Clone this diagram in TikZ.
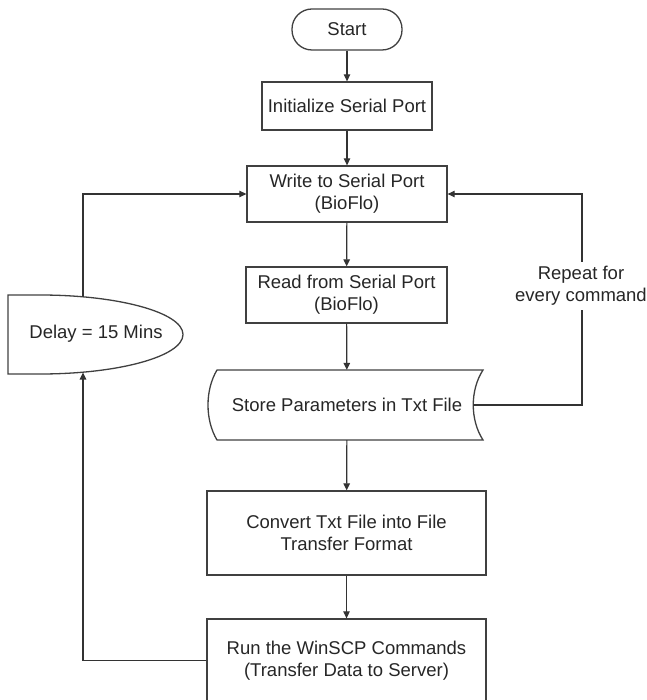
\documentclass[tikz,border=0pt]{standalone}
\usepackage{fontspec}
\setmainfont{Liberation Sans}
\usetikzlibrary{arrows.meta}

\begin{document}
\begin{tikzpicture}[x=1pt,y=-1pt,
  every node/.style={font=\fontsize{18.5}{22}\selectfont, text=black!85,
    align=center, inner sep=0pt},
  stepbox/.style={draw=black!75, line width=1.3pt},
  outline/.style={draw=black!75, line width=1.3pt},
  link/.style={draw=black!80, line width=1.2pt,
    -{Triangle[length=7pt,width=6.5pt]}},
]
\useasboundingbox (0,0) rectangle (646,700);

% terminal and process steps
\node[stepbox, rounded corners=20pt, minimum width=110pt, minimum height=41pt]
  (start) at (347,29.5) {Start};
\node[stepbox, minimum width=170pt, minimum height=48pt]
  (init) at (347,106) {Initialize Serial Port};
\node[stepbox, minimum width=200pt, minimum height=56pt]
  (write) at (347,194) {Write to Serial Port\\(BioFlo)};
\node[stepbox, minimum width=201pt, minimum height=56pt]
  (read) at (346.5,295) {Read from Serial Port\\(BioFlo)};

% stored-data step: convex left side, concave right side
\node[minimum width=272pt, minimum height=70pt]
  (store) at (347,405) {Store Parameters in Txt File};
\draw[outline] (217,370) -- (483,370)
  .. controls (470,390) and (470,420) .. (483,440)
  -- (217,440)
  .. controls (205,420) and (205,390) .. (217,370) -- cycle;

\node[stepbox, minimum width=279pt, minimum height=84pt]
  (convert) at (346.5,533) {Convert Txt File into File\\Transfer Format};
\node[stepbox, minimum width=279pt, minimum height=83pt]
  (run) at (346.5,660.5) {Run the WinSCP Commands\\(Transfer Data to Server)};

% delay step
\draw[outline] (8,295) -- (40,295)
  .. controls (119,295) and (183,312.7) .. (183,334.5)
  .. controls (183,356.3) and (119,374) .. (40,374)
  -- (8,374) -- cycle;
\node (delay) at (96,334) {Delay = 15 Mins};
\coordinate (dtop) at (83,297);
\coordinate (dbot) at (83,372.5);

% main flow
\draw[link] (start) -- (init);
\draw[link] (init) -- (write);
\draw[link] (write) -- (read);
\draw[link] (read) -- (store);
\draw[link] (store) -- (convert);
\draw[link] (convert) -- (run);

% outer loop through the delay
\draw[link] (run.west) -- (83,660.5) -- (dbot);
\draw[link] (dtop) -- (83,194) -- (write.west);

% inner loop for each command
\draw[link] ([xshift=-10pt]store.east) -- (582,405) -- (582,194) -- (write.east);
\node[fill=white, inner xsep=1pt, inner ysep=4pt] (repeat) at (581,286)
  {Repeat for\\every command};
\end{tikzpicture}
\end{document}
